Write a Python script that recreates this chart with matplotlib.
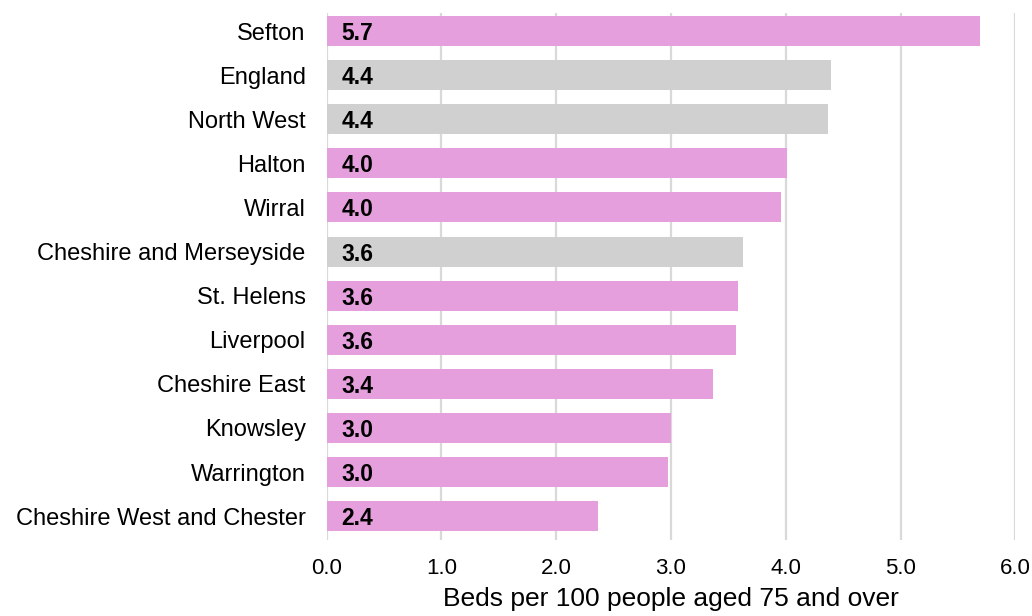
import matplotlib.pyplot as plt
import numpy as np

plt.rcParams["font.family"] = ["Liberation Sans", "DejaVu Sans"]

# ── Data ──────────────────────────────────────────────────────────────────────
areas = [
    "Sefton", "England", "North West", "Halton", "Wirral",
    "Cheshire and Merseyside", "St. Helens", "Liverpool", "Cheshire East",
    "Knowsley", "Warrington", "Cheshire West and Chester",
]
beds = [5.69, 4.39, 4.37, 4.01, 3.96, 3.63, 3.58, 3.57, 3.37, 3.00, 2.97, 2.36]
is_benchmark = [False, True, True, False, False, True,
                False, False, False, False, False, False]

PINK = "#E59FDC"
GRAY = "#D0D0D0"
GRID = "#D9D9D9"

fig = plt.figure(figsize=(10.32, 6.16), dpi=100)
ax = fig.add_axes([0.3164, 0.1234, 0.6676, 0.8556])

y = np.arange(len(areas))
colors = [GRAY if b else PINK for b in is_benchmark]
ax.barh(y, beds, height=0.68, color=colors, zorder=3)

for yi, v in zip(y, beds):
    ax.text(0.13, yi, f"{v:.1f}", ha="left", va="center_baseline",
            fontsize=16.5, fontweight="bold", color="black", zorder=4)

ax.set_xlim(0, 6)
ax.set_ylim(len(areas) - 0.46, -0.41)
ax.set_xticks(np.arange(0, 7, 1))
ax.set_xticklabels([f"{t:.1f}" for t in np.arange(0, 7, 1)], fontsize=16)
ax.set_yticks(y)
ax.set_yticklabels(areas, fontsize=17)
ax.tick_params(axis="both", length=0)
ax.tick_params(axis="x", pad=13)
ax.tick_params(axis="y", pad=15)
ax.grid(axis="x", color=GRID, linewidth=1.6, zorder=0)
for spine in ax.spines.values():
    spine.set_visible(False)
ax.set_xlabel("Beds per 100 people aged 75 and over", fontsize=19, labelpad=6)

fig.savefig("out.png", dpi=100, facecolor="white")
